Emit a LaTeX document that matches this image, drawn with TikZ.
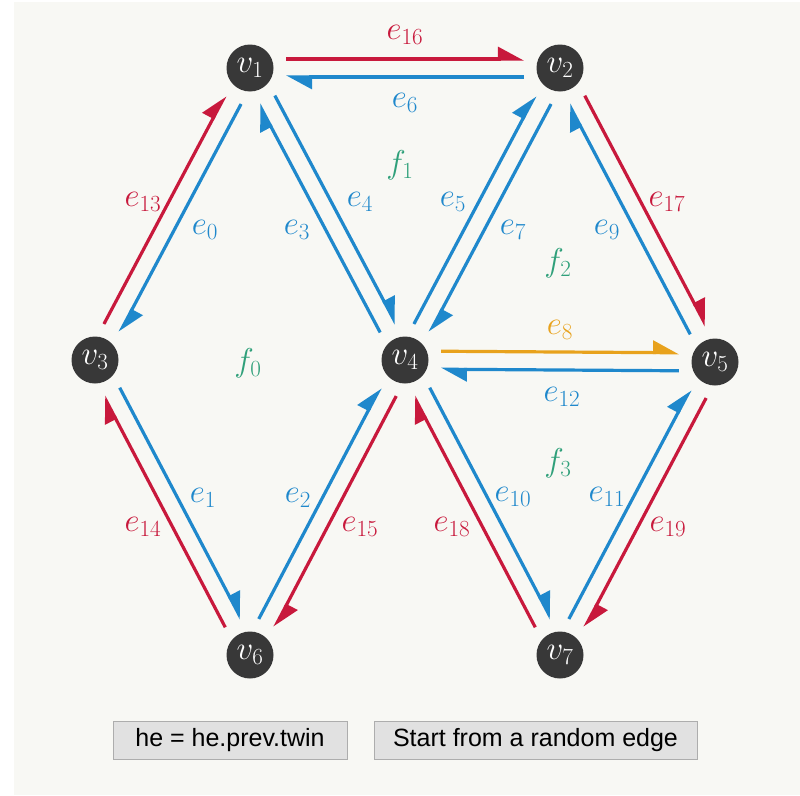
\RequirePackage{fix-cm}
\documentclass[tikz,border=0pt]{standalone}
\usepackage{fontspec}
\newfontfamily\btnfont{Liberation Sans}
\usetikzlibrary{arrows.meta,calc}
\definecolor{hered}{HTML}{C8193C}
\definecolor{heblue}{HTML}{1F88CC}
\definecolor{heorange}{HTML}{E8A21C}
\definecolor{facegreen}{HTML}{2FA07A}
\definecolor{vertdark}{HTML}{383838}
\definecolor{canvasbg}{HTML}{F8F8F4}
\definecolor{btngray}{HTML}{E1E1E1}
\definecolor{btnedge}{HTML}{ADADAD}
\newcommand{\halfedge}[3]{\draw[#3,line width=3.2pt,-{Triangle[harpoon,length=23pt,width=24pt]}] ($(#1)!36pt!(#2)!9pt!90:(#2)$) -- ($(#2)!36pt!(#1)!9pt!-90:(#1)$);}

\begin{document}
\begin{tikzpicture}[x=1pt,y=-1pt,
  vert/.style={circle,fill=vertdark,minimum size=47pt,inner sep=0pt,text=white,font=\fontsize{33}{33}\selectfont},
  elabel/.style={inner sep=0pt,font=\fontsize{33}{33}\selectfont},
  flabel/.style={inner sep=0pt,text=facegreen,font=\fontsize{33}{33}\selectfont},
  btn/.style={draw=btnedge,fill=btngray,line width=1pt,minimum height=38pt,inner sep=0pt,font=\btnfont\fontsize{25}{25}\selectfont}]
  \useasboundingbox (0,0) rectangle (800,795);
  \fill[white] (0,0) rectangle (800,795);
  \fill[canvasbg] (14,2) rectangle (800,795);
  \foreach \n/\x/\y in {1/250/68,2/560/68,3/95/360,4/405/360,5/715/362,6/250/655,7/560/655}
    \node[vert] (v\n) at (\x,\y) {$v_{\n}$};
  \foreach \a/\b/\c/\i/\lx/\ly in {1/3/heblue/0/205/230,3/6/heblue/1/203/498,6/4/heblue/2/298/498,4/1/heblue/3/297/230,
    1/4/heblue/4/360/202,4/2/heblue/5/453/202,2/1/heblue/6/405/103,2/4/heblue/7/513/230,4/5/heorange/8/560/330,
    5/2/heblue/9/607/230,4/7/heblue/10/513/497,7/5/heblue/11/607/497,5/4/heblue/12/562/397,3/1/hered/13/143/202,
    6/3/hered/14/143/527,4/6/hered/15/360/527,1/2/hered/16/405/35,2/5/hered/17/667/202,7/4/hered/18/452/527,5/7/hered/19/668/527}{
    \halfedge{v\a}{v\b}{\c}
    \node[elabel,text=\c] (e\i) at (\lx,\ly) {$e_{\i}$};
  }
  \foreach \i/\x/\y in {0/248/363,1/400/165,2/558/263,3/558/463}
    \node[flabel] (f\i) at (\x,\y) {$f_{\i}$};
  \node[btn,minimum width=234pt] (flip) at (230,740) {he = he.prev.twin};
  \node[btn,minimum width=323pt] (restart) at (535.5,740) {Start from a random edge};
\end{tikzpicture}
\end{document}
